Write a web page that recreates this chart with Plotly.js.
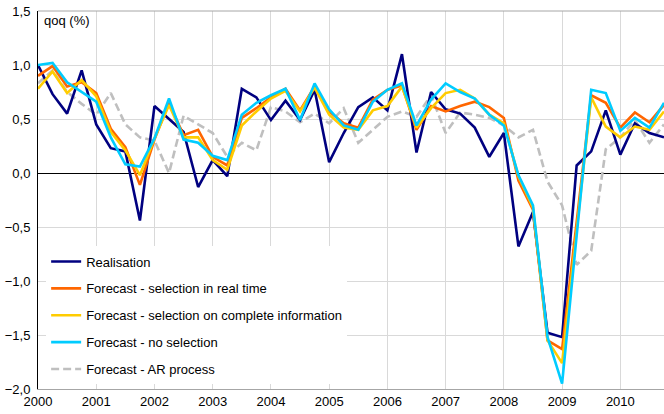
<!DOCTYPE html>
<html>
<head>
<meta charset="utf-8">
<script src="https://cdn.plot.ly/plotly-3.0.1.min.js"></script>
<style>html,body{margin:0;padding:0;background:#fff;}#chart{width:664px;height:414px;}</style>
</head>
<body>
<div id="chart"></div>
<script>
// Quarterly periods 2000Q1 .. 2010Q4
const startYear = 2000;
const nQuarters = 44;
const quarters = Array.from({length: nQuarters}, (_, i) => startYear + i / 4);

const realisation = [
  1.00, 0.73, 0.55, 0.95,
  0.45, 0.23, 0.20, -0.44,
  0.62, 0.50, 0.38, -0.13,
  0.12, -0.03, 0.78, 0.70,
  0.49, 0.67, 0.49, 0.77,
  0.10, 0.37, 0.61, 0.70,
  0.58, 1.10, 0.19, 0.75,
  0.59, 0.55, 0.42, 0.15,
  0.37, -0.68, -0.36, -1.48,
  -1.52, 0.07, 0.20, 0.58,
  0.17, 0.46, 0.37, 0.33
];
const fcRealTime = [
  0.90, 0.99, 0.80, 0.84,
  0.74, 0.41, 0.24, -0.11,
  0.31, 0.65, 0.35, 0.40,
  0.15, 0.07, 0.51, 0.60,
  0.70, 0.78, 0.58, 0.80,
  0.57, 0.46, 0.42, 0.68,
  0.77, 0.81, 0.40, 0.62,
  0.57, 0.62, 0.66, 0.61,
  0.51, -0.07, -0.34, -1.55,
  -1.63, -0.48, 0.72, 0.65,
  0.42, 0.56, 0.47, 0.63
];
const fcComplete = [
  0.78, 0.94, 0.74, 0.86,
  0.71, 0.38, 0.21, -0.02,
  0.32, 0.63, 0.33, 0.33,
  0.12, 0.03, 0.44, 0.57,
  0.69, 0.76, 0.57, 0.79,
  0.54, 0.42, 0.40, 0.58,
  0.62, 0.80, 0.42, 0.60,
  0.74, 0.77, 0.69, 0.54,
  0.46, -0.03, -0.32, -1.55,
  -1.76, -0.52, 0.70, 0.43,
  0.33, 0.43, 0.40, 0.57
];
const fcNoSelection = [
  1.00, 1.02, 0.84, 0.75,
  0.66, 0.33, 0.08, 0.06,
  0.32, 0.69, 0.31, 0.28,
  0.16, 0.12, 0.54, 0.65,
  0.72, 0.78, 0.49, 0.83,
  0.59, 0.44, 0.40, 0.66,
  0.77, 0.83, 0.44, 0.68,
  0.83, 0.75, 0.69, 0.54,
  0.44, -0.02, -0.30, -1.52,
  -1.95, -0.58, 0.77, 0.74,
  0.39, 0.51, 0.42, 0.65
];
const fcAR = [
  0.83, 0.95, 0.75, 0.64,
  0.54, 0.74, 0.45, 0.33,
  0.30, 0.00, 0.53, 0.45,
  0.37, 0.15, 0.28, 0.21,
  0.61, 0.57, 0.47, 0.55,
  0.46, 0.60, 0.28, 0.40,
  0.52, 0.57, 0.52, 0.72,
  0.37, 0.56, 0.54, 0.51,
  0.44, 0.33, 0.40, -0.08,
  -0.30, -0.85, -0.72, 0.22,
  0.33, 0.49, 0.28, 0.45
];

const names = [
  "Realisation",
  "Forecast - selection in real time",
  "Forecast - selection on complete information",
  "Forecast - no selection",
  "Forecast - AR process"
];
const yTickVals = [-2.0, -1.5, -1.0, -0.5, 0.0, 0.5, 1.0, 1.5];
const xTickVals = [2000, 2001, 2002, 2003, 2004, 2005, 2006, 2007, 2008, 2009, 2010];

function tr(y, name, color, rank, dash) {
  return {
    x: quarters, y: y, name: name, type: "scatter", mode: "lines",
    line: {color: color, width: 2.6, dash: dash || "solid"},
    legendgroup: "g" + rank, legendrank: rank, hoverinfo: "skip"
  };
}

const data = [
  tr(fcAR, names[4], "#BFBFBF", 5, "8px,4px"),
  tr(realisation, names[0], "#000080", 1),
  tr(fcRealTime, names[1], "#FF6600", 2),
  tr(fcComplete, names[2], "#FFCC00", 3),
  tr(fcNoSelection, names[3], "#00CCFF", 4)
];

const font = {family: "Liberation Sans, Arial, sans-serif", size: 13, color: "#000"};

const layout = {
  width: 664, height: 414,
  margin: {l: 38, r: 0, t: 11, b: 25, pad: 0},
  paper_bgcolor: "#fff", plot_bgcolor: "#fff",
  font: font,
  separators: ", ",
  showlegend: true,
  legend: {
    x: 0.013, y: 0.377, xanchor: "left", yanchor: "top",
    bgcolor: "rgba(255,255,255,1)", borderwidth: 0,
    font: font, traceorder: "grouped", tracegroupgap: 7
  },
  xaxis: {
    range: [2000, 2010.75], tickvals: xTickVals, tickformat: "d",
    showgrid: true, gridcolor: "#D9D9D9", gridwidth: 1,
    showline: true, linecolor: "#A6A6A6", linewidth: 1, mirror: false,
    zeroline: false, ticks: "", tickfont: font
  },
  yaxis: {
    range: [-2, 1.5], tickvals: yTickVals, tickformat: ".1f",
    showgrid: true, gridcolor: "#D9D9D9", gridwidth: 1,
    showline: true, linecolor: "#000", linewidth: 1,
    zeroline: true, zerolinecolor: "#000", zerolinewidth: 1,
    ticks: "", tickfont: font, ticklabelstandoff: 4
  },
  shapes: [
    {type: "line", xref: "paper", yref: "paper", x0: 0, x1: 1, y0: 1, y1: 1,
     line: {color: "#A6A6A6", width: 1}}
  ],
  annotations: [
    {text: "qoq (%)", xref: "paper", yref: "paper", x: 0.006, y: 0.976,
     xanchor: "left", yanchor: "middle", showarrow: false, font: font}
  ]
};

Plotly.newPlot("chart", data, layout, {staticPlot: true, displayModeBar: false});
</script>
</body>
</html>
